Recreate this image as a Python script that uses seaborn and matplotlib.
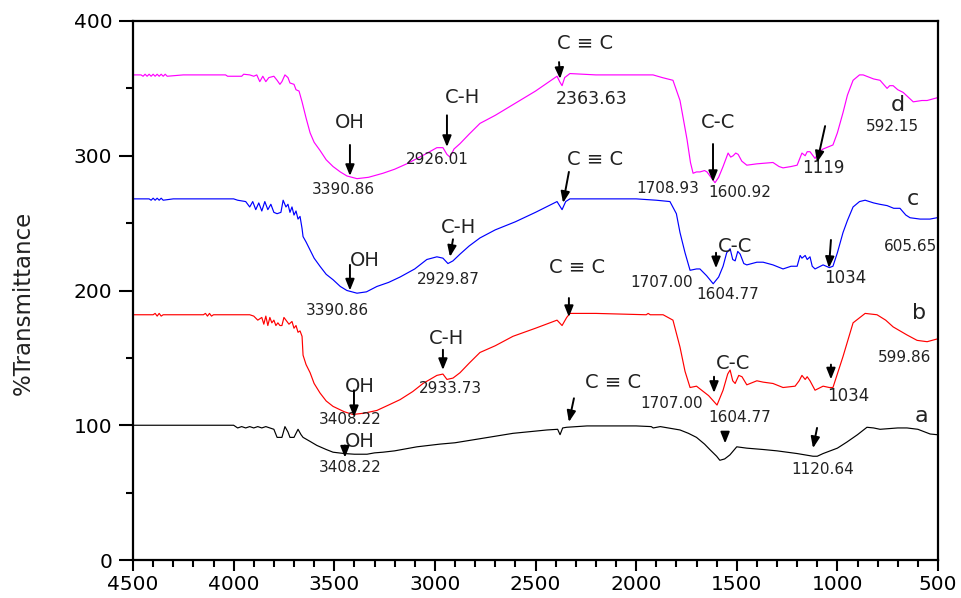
import numpy as np
import pandas as pd
import matplotlib
matplotlib.use("Agg")
import matplotlib.pyplot as plt
import seaborn as sns
from matplotlib.ticker import MultipleLocator

# ---------------- data ----------------
wn_a = [4500, 4000, 3980, 3960, 3940, 3920, 3900, 3880, 3860, 3840, 3800, 3784, 3760, 3745, 3730,
        3720, 3700, 3680, 3665, 3655, 3620, 3586, 3540, 3506, 3450, 3400, 3337, 3300, 3258, 3200,
        3089, 2975, 2900, 2776, 2612, 2443, 2390, 2378, 2365, 2345, 2244, 2000, 1925, 1915, 1880,
        1782, 1740, 1700, 1660, 1634, 1600, 1584, 1560, 1534, 1500, 1450, 1369, 1300, 1200, 1121,
        1100, 1071, 1000, 953, 900, 853, 820, 788, 700, 654, 600, 539, 505]
tr_a = [100, 100, 98, 99, 98, 99, 98, 99, 98, 99, 97, 91, 91, 99, 95,
        91, 91, 97, 93, 91, 88, 85, 82, 80, 79, 78.5, 78.5, 79.5, 80, 81,
        84, 86, 87, 90, 94, 96.5, 97, 93, 98, 98.5, 99.5, 99.5, 99, 98, 99,
        96.5, 94, 91, 86, 82, 77, 74, 75, 78, 84, 83, 82, 81, 79, 77,
        77, 79, 83, 87.5, 93, 98.5, 98, 97, 98, 98, 97, 93.5, 93]

wn_b = [4500, 4400, 4390, 4380, 4370, 4360, 4350, 4200, 4150, 4140, 4130, 4120, 4110, 4100, 4000,
        3920, 3900, 3880, 3860, 3850, 3840, 3830, 3820, 3810, 3800, 3790, 3780, 3770, 3760, 3750,
        3740, 3725, 3710, 3700, 3690, 3680, 3670, 3660, 3655, 3640, 3620, 3600, 3571, 3540, 3506,
        3450, 3407, 3350, 3288, 3230, 3173, 3110, 3059, 2990, 2960, 2940, 2910, 2875, 2830, 2776,
        2700, 2612, 2500, 2393, 2368, 2345, 2329, 2200, 1950, 1940, 1930, 1866, 1817, 1782, 1757,
        1732, 1700, 1683, 1640, 1598, 1568, 1545, 1533, 1520, 1508, 1490, 1474, 1450, 1400, 1369,
        1320, 1270, 1210, 1190, 1176, 1160, 1150, 1136, 1111, 1071, 1040, 1022, 972, 922, 862,
        803, 760, 723, 654, 604, 554, 505]
tr_b = [182, 182, 183, 181, 183, 181, 182, 182, 182, 183, 181, 183, 181, 182, 182,
        182, 181, 178, 180, 175, 181, 174, 180, 176, 178, 174, 176, 174, 174, 180,
        178, 175, 177, 172, 174, 169, 170, 166, 152, 145, 139, 131, 124, 118, 114,
        110, 108, 109, 111, 115, 119, 125, 131, 137, 138, 134, 135, 139, 146, 154,
        159, 166, 172, 178, 174, 180, 183, 183, 182, 183, 182, 182, 178, 158, 140,
        128, 129, 127, 122, 115, 126, 138, 141, 133, 131, 137, 136, 130, 133, 132,
        131, 128, 129, 133, 137, 134, 136, 133, 126, 129, 128, 128, 151, 176, 183,
        182, 178, 173, 167, 163, 162, 164]

wn_c = [4500, 4420, 4410, 4400, 4390, 4380, 4370, 4360, 4350, 4300, 4000, 3980, 3940, 3920, 3905,
        3890, 3875, 3860, 3845, 3830, 3815, 3800, 3784, 3765, 3754, 3740, 3730, 3720, 3710, 3700,
        3690, 3680, 3670, 3660, 3655, 3640, 3620, 3600, 3571, 3540, 3506, 3470, 3437, 3387, 3340,
        3288, 3230, 3173, 3100, 3040, 2990, 2960, 2935, 2910, 2875, 2830, 2776, 2700, 2600, 2500,
        2393, 2368, 2350, 2329, 2200, 2000, 1900, 1832, 1800, 1782, 1757, 1732, 1700, 1683, 1650,
        1617, 1590, 1568, 1550, 1533, 1520, 1508, 1495, 1483, 1465, 1450, 1400, 1369, 1320, 1270,
        1230, 1200, 1185, 1176, 1160, 1150, 1136, 1125, 1111, 1071, 1040, 1022, 1000, 972, 950,
        922, 890, 862, 820, 790, 753, 720, 689, 660, 639, 589, 540, 505]
tr_c = [268, 268, 267, 268.5, 267, 268.5, 267, 268.5, 267, 268, 268, 267, 266, 262, 266,
        260, 265, 259, 266, 260, 264, 258, 257, 258, 267, 262, 264, 258, 262, 256,
        259, 253, 255, 246, 240, 236, 230, 224, 218, 212, 208, 203, 200, 198, 199,
        203, 206, 210, 216, 223, 225, 224, 220, 222, 227, 233, 239, 245, 251, 258,
        266, 260, 266, 268, 268, 268, 267, 266, 257, 243, 228, 215, 216, 216, 211,
        205, 210, 218, 228, 231, 223, 222, 229, 227, 220, 219, 221, 221, 219, 216,
        218, 218, 226, 224, 226, 223, 225, 218, 216, 219, 217, 218, 228, 243, 252,
        262, 266, 267, 265, 264, 263, 261, 261, 256, 254, 253, 253, 254]

wn_d = [4500, 4460, 4450, 4440, 4430, 4420, 4410, 4400, 4390, 4380, 4370, 4360, 4350, 4340, 4330,
        4250, 4040, 4030, 3960, 3950, 3920, 3900, 3885, 3870, 3855, 3840, 3825, 3800, 3784, 3770,
        3760, 3745, 3730, 3720, 3700, 3690, 3675, 3660, 3640, 3620, 3600, 3571, 3540, 3506, 3470,
        3437, 3387, 3330, 3258, 3200, 3140, 3050, 2990, 2960, 2940, 2925, 2905, 2875, 2830, 2776,
        2700, 2600, 2500, 2393, 2380, 2368, 2355, 2329, 2200, 2000, 1916, 1870, 1817, 1782, 1765,
        1747, 1730, 1717, 1700, 1683, 1660, 1648, 1608, 1590, 1568, 1543, 1530, 1518, 1505, 1493,
        1475, 1450, 1400, 1320, 1290, 1270, 1230, 1200, 1176, 1160, 1150, 1136, 1111, 1090, 1071,
        1022, 1000, 972, 950, 922, 890, 872, 820, 788, 753, 740, 723, 700, 673, 623, 580, 554, 505]
tr_d = [360, 360, 359, 360.5, 359, 360.5, 359, 360.5, 359, 360.5, 359, 360.5, 359, 360.5, 359,
        360, 360, 359, 359, 360.5, 360, 359, 360, 355, 359, 355, 358, 359, 356, 353,
        355, 360, 358, 354, 353, 349, 348, 340, 328, 317, 310, 304, 297, 292, 288,
        285, 283, 284, 287, 290, 294, 301, 306, 306, 301, 299, 305, 309, 316, 324,
        330, 339, 348, 359, 355, 352, 358, 361, 360, 360, 360, 358, 356, 341, 327,
        312, 295, 287, 288, 288, 289, 288, 280, 284, 292, 302, 299, 300, 302, 301,
        296, 293, 294, 295, 292, 291, 292, 293, 302, 300, 303, 303, 298, 303, 305,
        308, 317, 332, 345, 356, 360, 360, 357, 356, 350, 352, 352, 349, 347, 340, 341, 341, 343]

samples = ["a", "b", "c", "d"]
colors = {"a": "black", "b": "#ff0000", "c": "#0000ff", "d": "#ff00ff"}

# annotation texts: (text, wavenumber, transmittance, fontsize)
labels = [
    ("OH", 3422, 325, 14), ("3390.86", 3457, 274.6, 11), ("C-H", 2865, 343, 14),
    ("2926.01", 2989, 297, 11), ("C ≡ C", 2254, 383.6, 14), ("2363.63", 2219, 342, 12.5),
    ("C-C", 1593, 325, 14), ("1708.93", 1842, 276, 11), ("1600.92", 1484, 273, 11),
    ("1119", 1071, 291, 12), ("d", 699, 337.6, 16), ("592.15", 724, 322, 11),
    ("OH", 3347, 222.6, 14), ("3390.86", 3486, 185.5, 11), ("C-H", 2885, 247, 14),
    ("2929.87", 2935, 208.5, 11), ("C ≡ C", 2204, 297, 14), ("1707.00", 1871, 206, 11),
    ("C-C", 1509, 233, 14), ("1604.77", 1543, 197.4, 11), ("1034", 962, 209, 12),
    ("c", 624, 268, 16), ("605.65", 639, 233, 11),
    ("C-H", 2940, 164.7, 14), ("2933.73", 2925, 127.6, 11), ("OH", 3372, 128.4, 14),
    ("3408.22", 3422, 104, 11), ("C ≡ C", 2294, 216.7, 14), ("1707.00", 1822, 116.5, 11),
    ("C-C", 1519, 146, 14), ("1604.77", 1484, 105.4, 11), ("1034", 947, 121.7, 12),
    ("b", 594, 183, 16), ("599.86", 664, 150, 11),
    ("OH", 3372, 87.6, 14), ("3408.22", 3422, 69, 11), ("C ≡ C", 2115, 132, 14),
    ("1120.64", 1071, 66.8, 11), ("a", 580, 106.9, 16),
]

# arrows: (tail wn, tail T, head wn, head T)
arrows = [
    (3422, 308, 3422, 285), (2940, 330, 2940, 306.5), (2383, 369.5, 2378, 357),
    (1618, 308.7, 1618, 280.5), (1061, 322, 1101, 295),
    (3422, 219, 3422, 200), (2910, 238, 2925, 225), (2334, 288, 2363, 265),
    (1603, 228, 1603, 216.5), (1032, 237.5, 1042, 216.7),
    (2960, 156, 2960, 141), (3402, 126, 3402, 106), (2334, 194.4, 2334, 180.3),
    (1613, 136, 1613, 124), (1032, 145, 1032, 134),
    (3447, 85, 3447, 76), (2309, 120, 2334, 102.4), (1558, 95, 1558, 86.5), (1101, 98, 1121, 83),
]

# ---------------- build frame ----------------
frames = []
for s, wn, tr in [("a", wn_a, tr_a), ("b", wn_b, tr_b), ("c", wn_c, tr_c), ("d", wn_d, tr_d)]:
    frames.append(pd.DataFrame({"wavenumber": wn, "transmittance": tr, "sample": s}))
df = pd.concat(frames, ignore_index=True)

sns.set_theme(style="ticks")
plt.rcParams["font.family"] = ["DejaVu Sans"]

fig = plt.figure(figsize=(9.61, 5.98), dpi=100)
ax = fig.add_axes([133 / 961, 38 / 598, 805 / 961, 539 / 598])

sns.lineplot(data=df, x="wavenumber", y="transmittance", hue="sample", palette=colors,
             hue_order=samples, estimator=None, sort=False, legend=False, linewidth=0.85, ax=ax)

ax.set_xlim(4500, 500)
ax.set_ylim(0, 400)
ax.xaxis.set_major_locator(MultipleLocator(500))
ax.xaxis.set_minor_locator(MultipleLocator(100))
ax.yaxis.set_major_locator(MultipleLocator(100))
ax.yaxis.set_minor_locator(MultipleLocator(50))
ax.tick_params(axis="both", which="both", direction="out", width=1.5, colors="black",
               labelsize=14.5, top=False, right=False)
ax.tick_params(axis="x", which="major", length=8, pad=3)
ax.tick_params(axis="y", which="major", length=10, pad=5)
ax.tick_params(axis="both", which="minor", length=5)
for sp in ax.spines.values():
    sp.set_visible(True)
    sp.set_linewidth(1.6)
    sp.set_color("black")

ax.set_xlabel("")
ax.set_ylabel("%Transmittance", fontsize=16.5, color="#222222", va="center")
ax.yaxis.set_label_coords((23 - 133) / 805, (560 - 303) / 539)

for txt, x, y, fs in labels:
    ax.text(x, y, txt, fontsize=fs, ha="center", va="center", color="#222222")

for x0, y0, x1, y1 in arrows:
    ax.annotate("", xy=(x1, y1), xytext=(x0, y0),
                arrowprops=dict(arrowstyle="-|>,head_length=0.55,head_width=0.22",
                                color="black", lw=1.4, shrinkA=0, shrinkB=0))

fig.savefig("out.png", dpi=100)
